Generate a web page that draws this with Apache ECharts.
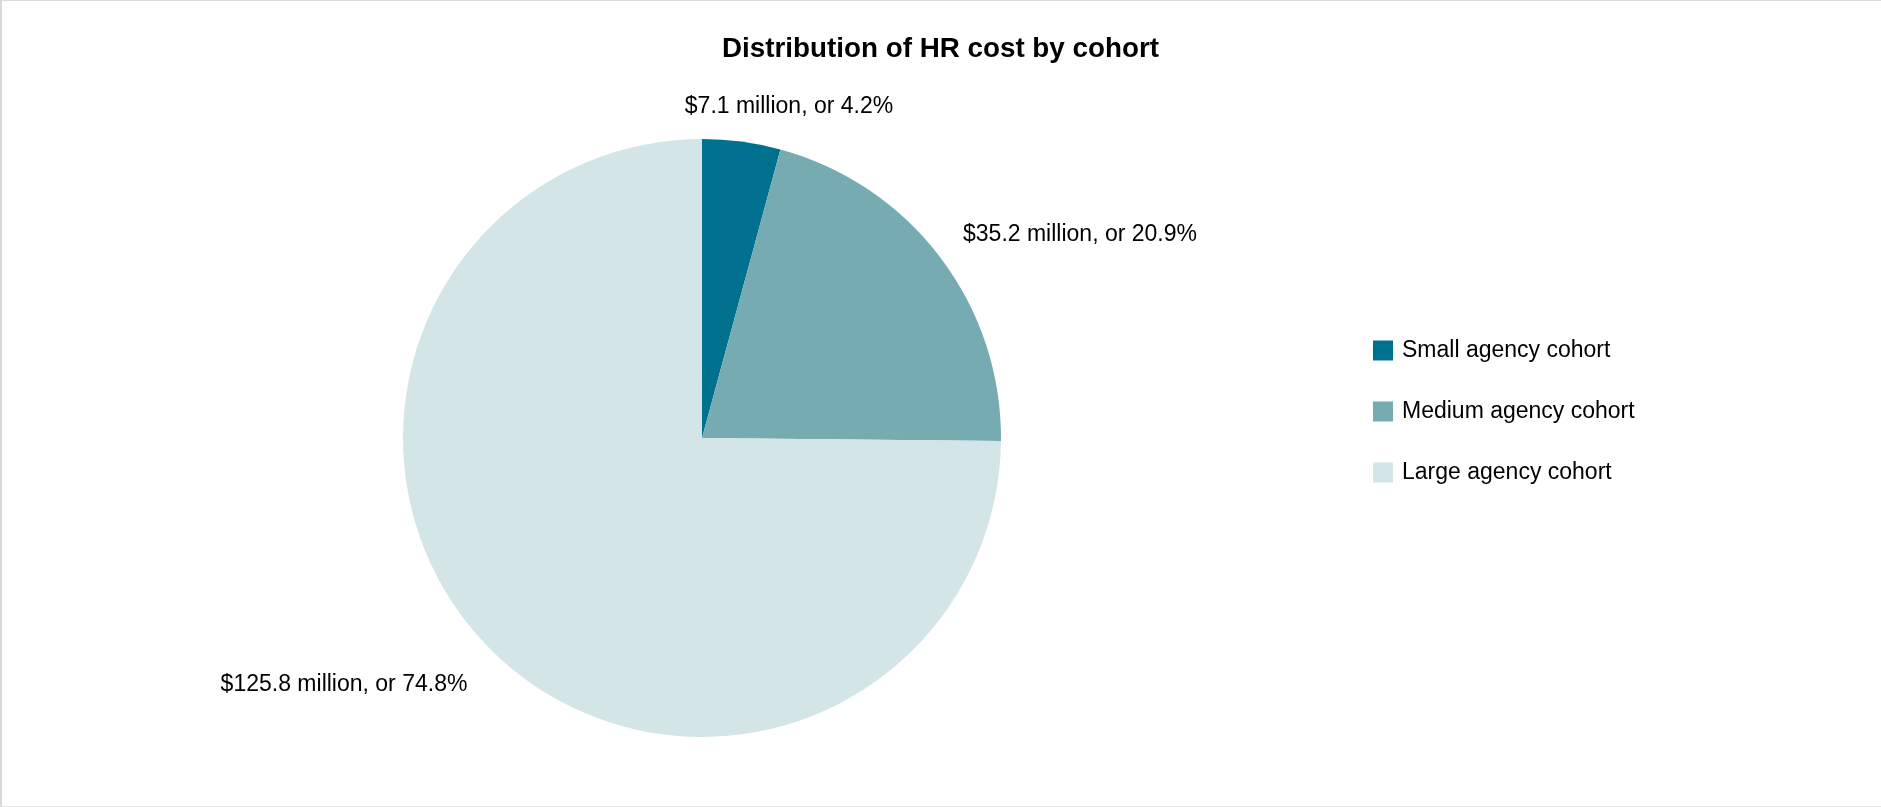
<!DOCTYPE html>
<html>
<head>
<meta charset="utf-8">
<title>Distribution of HR cost by cohort</title>
<script src="https://cdn.jsdelivr.net/npm/echarts@6/dist/echarts.min.js"></script>
<style>
  html, body { margin: 0; padding: 0; background: #fff; }
  #wrap { position: relative; width: 1881px; height: 807px; }
  #chart { position: absolute; left: 0; top: 0; width: 1881px; height: 807px; }
  #frame {
    position: absolute; left: 0; top: 0; width: 1881px; height: 807px;
    box-sizing: border-box; pointer-events: none;
    border-top: 1px solid #d9d9d9; border-left: 2px solid #d9d9d9; border-bottom: 1px solid #e6e6e6;
  }
</style>
</head>
<body>
<div id="wrap">
  <div id="chart"></div>
  <div id="frame"></div>
</div>
<script>
// HR cost per agency cohort, $ million
const cohorts = ['Small agency cohort', 'Medium agency cohort', 'Large agency cohort'];
const costMillions = [7.1, 35.2, 125.8];
const sharePercent = [4.2, 20.9, 74.8];
const cohortColors = ['#00708F', '#75ABB1', '#D3E5E7'];

// Where each slice's caption sits (centre of the text)
const captionSpots = [[789, 107], [1080, 235], [344, 685]];

const chart = echarts.init(document.getElementById('chart'), null, { renderer: 'canvas' });

const fontFamily = 'Liberation Sans, Arial, sans-serif';

chart.setOption({
  backgroundColor: '#ffffff',
  animation: false,
  title: {
    text: 'Distribution of HR cost by cohort',
    left: 'center',
    top: 30,
    textStyle: { fontFamily, fontSize: 27.8, fontWeight: 'bold', color: '#000' }
  },
  legend: {
    orient: 'vertical',
    left: 1368,
    top: 334,
    itemWidth: 20,
    itemHeight: 20,
    itemGap: 38,
    icon: 'rect',
    data: cohorts,
    textStyle: { fontFamily, fontSize: 23, color: '#000', padding: [0, 0, 0, 4] }
  },
  series: [{
    type: 'pie',
    center: [702, 438],
    radius: 299,
    startAngle: 90,
    clockwise: true,
    avoidLabelOverlap: false,
    silent: true,
    label: {
      show: true,
      position: 'outside',
      fontFamily,
      fontSize: 23,
      color: '#000',
      formatter: p => '$' + costMillions[p.dataIndex].toFixed(1) + ' million, or ' + sharePercent[p.dataIndex].toFixed(1) + '%'
    },
    labelLine: { show: false },
    labelLayout: p => ({
      x: captionSpots[p.dataIndex][0],
      y: captionSpots[p.dataIndex][1],
      align: 'center',
      verticalAlign: 'middle'
    }),
    itemStyle: { borderWidth: 0 },
    data: cohorts.map((name, i) => ({
      name,
      value: costMillions[i],
      itemStyle: { color: cohortColors[i] }
    }))
  }]
});
</script>
</body>
</html>
